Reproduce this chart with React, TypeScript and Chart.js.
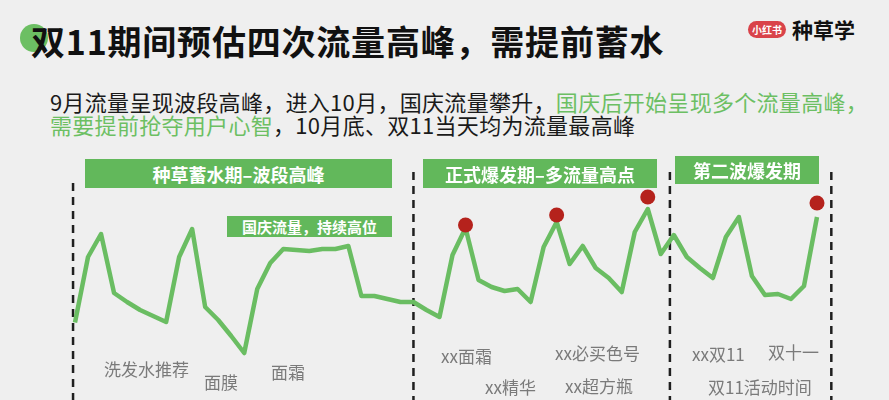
import React, { useEffect, useRef } from 'react';
import Chart from 'chart.js/auto';

// daily traffic index (0-100)
const flowValues = [
  31, 57.2, 66.4, 42.8, 39.2, 36, 33.6, 31.2, 57.2, 68.4,
  37.2, 32, 25.6, 18.8, 44.4, 54.8, 60.4, 60, 59.6, 60.4,
  60.4, 61.6, 41.6, 41.6, 40.4, 39.2, 39.2, 36, 33.2, 58,
  68.8, 48, 45.2, 43.6, 44.4, 39.2, 61.2, 71.2, 54.4, 61.6,
  52.8, 48.8, 43.2, 67.2, 76.4, 58.4, 66, 57.2, 52.8, 48.8,
  65.2, 73.2, 49.6, 42, 42.4, 40.4, 45.6, 73.2,
];

// peak markers
const peakIndex = [30, 37, 44, 57];
const peakValues = [70, 74, 81.2, 78.8];

// period boundaries (day index) and how high the dashed line reaches
const periodBounds = [-0.15, 26, 45.7, 58.1];
const boundTops = [86.8, 91.2, 91.2, 91.2];

const GREEN = '#62b85b';
const LINE_GREEN = '#6abd62';
const CJK = '"Noto Sans CJK SC", "Noto Sans", sans-serif';

const App: React.FC = () => {
  const chartRef = useRef<HTMLCanvasElement>(null);

  useEffect(() => {
    if (!chartRef.current) return;
    const ctx = chartRef.current.getContext('2d');
    if (!ctx) return;

    const boundSets = periodBounds.map((b, i) => ({
      data: [{ x: b, y: boundTops[i] }, { x: b, y: 0 }],
      borderColor: '#1f1f1f',
      borderWidth: 2.5,
      borderDash: [8, 6],
      pointRadius: 0,
      clip: false as const,
      order: 2,
    }));

    const chart = new Chart(ctx, {
      type: 'line',
      data: {
        datasets: [
          {
            data: peakIndex.map((x, i) => ({ x, y: peakValues[i] })),
            showLine: false,
            pointRadius: 7.5,
            pointBackgroundColor: '#b5221c',
            pointBorderWidth: 0,
            clip: false as const,
            order: 0,
          },
          {
            data: flowValues.map((v, i) => ({ x: i, y: v })),
            borderColor: LINE_GREEN,
            borderWidth: 4.5,
            borderJoinStyle: 'round',
            pointRadius: 0,
            tension: 0,
            clip: false as const,
            order: 1,
          },
          ...boundSets,
        ],
      },
      options: {
        animation: false,
        responsive: true,
        maintainAspectRatio: false,
        layout: { autoPadding: false, padding: { left: 75, right: 72, top: 150, bottom: 0 } },
        scales: {
          x: { type: 'linear', min: 0, max: 57, display: false },
          y: { min: 0, max: 100, display: false },
        },
        plugins: {
          legend: { display: false },
          tooltip: { enabled: false },
        },
      },
    });

    return () => {
      chart.destroy();
    };
  }, []);

  const banner = (text: string, style: React.CSSProperties, size = 18) => (
    <div
      style={{
        position: 'absolute',
        background: GREEN,
        color: '#fff',
        fontWeight: 700,
        fontSize: size,
        display: 'flex',
        alignItems: 'center',
        justifyContent: 'center',
        whiteSpace: 'nowrap',
        ...style,
      }}
    >
      {text}
    </div>
  );

  const label = (text: string, left: number, top: number) => (
    <div style={{ position: 'absolute', left, top, fontSize: 17, color: '#7a7a7a', whiteSpace: 'nowrap', lineHeight: '20px' }}>
      {text}
    </div>
  );

  return (
    <div style={{ position: 'fixed', left: 0, top: 0, width: 889, height: 400, background: '#efefef', fontFamily: CJK, overflow: 'hidden' }}>
      <div style={{ position: 'absolute', left: 20, top: 24, width: 28, height: 28, borderRadius: '50%', background: '#6cbf63' }} />
      <div style={{ position: 'absolute', left: 31, top: 22, fontSize: 34, fontWeight: 700, color: '#111', letterSpacing: 0.8, lineHeight: '38px', whiteSpace: 'nowrap' }}>
        双11期间预估四次流量高峰，需提前蓄水
      </div>

      <div style={{ position: 'absolute', left: 748, top: 21, width: 38, height: 17, borderRadius: 9, background: '#d9434a', color: '#fff', fontSize: 10, fontWeight: 700, display: 'flex', alignItems: 'center', justifyContent: 'center' }}>
        小红书
      </div>
      <div style={{ position: 'absolute', left: 792, top: 16, fontSize: 21, fontWeight: 700, color: '#111', lineHeight: '26px' }}>种草学</div>

      <div style={{ position: 'absolute', left: 50, top: 90, fontSize: 22, color: '#1a1a1a', lineHeight: '23px', whiteSpace: 'nowrap', letterSpacing: 0.3 }}>
        <div>
          9月流量呈现波段高峰，进入10月，国庆流量攀升，<span style={{ color: '#6cbf63' }}>国庆后开始呈现多个流量高峰，</span>
        </div>
        <div>
          <span style={{ color: '#6cbf63' }}>需要提前抢夺用户心智</span>，10月底、双11当天均为流量最高峰
        </div>
      </div>

      <div style={{ position: 'absolute', left: 0, top: 0, width: 889, height: 400 }}>
        <canvas ref={chartRef}></canvas>
      </div>

      {banner('种草蓄水期–波段高峰', { left: 85, top: 159, width: 307, height: 29 })}
      {banner('正式爆发期–多流量高点', { left: 423, top: 159, width: 234, height: 29 })}
      {banner('第二波爆发期', { left: 675, top: 156, width: 144, height: 28 })}
      {banner('国庆流量，持续高位', { left: 227, top: 216, width: 165, height: 21 }, 15)}

      {label('洗发水推荐', 104, 359)}
      {label('面膜', 204, 372)}
      {label('面霜', 271, 362)}
      {label('xx面霜', 441, 346)}
      {label('xx精华', 485, 377)}
      {label('xx必买色号', 555, 343)}
      {label('xx超方瓶', 565, 376)}
      {label('xx双11', 692, 344)}
      {label('双十一', 768, 342)}
      {label('双11活动时间', 708, 377)}
    </div>
  );
};

export default App;
